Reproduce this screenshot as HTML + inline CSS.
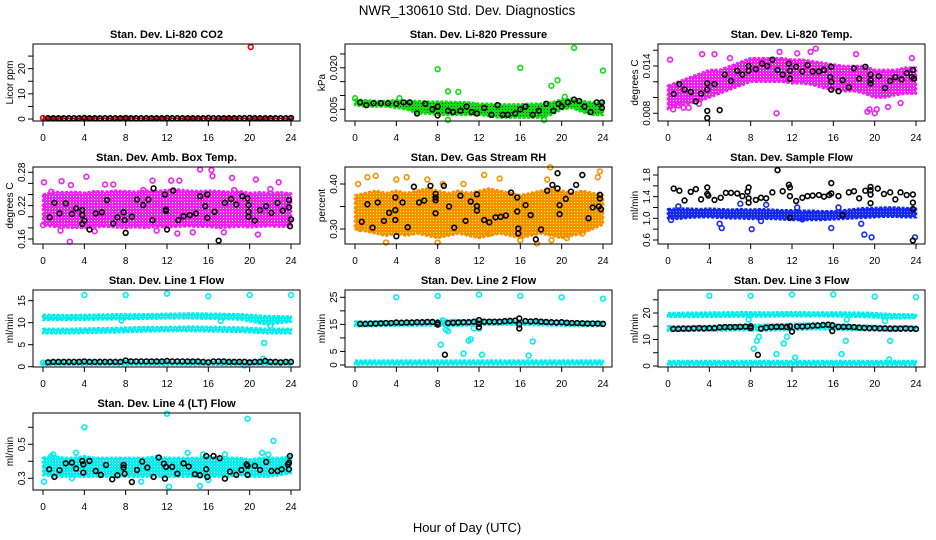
<!DOCTYPE html>
<html><head><meta charset="utf-8"><style>
html,body{margin:0;padding:0;background:#fff;}
svg{display:block;font-family:"Liberation Sans",Arial,sans-serif;}
</style></head><body>
<svg id="chart" width="936" height="540" viewBox="0 0 936 540" xmlns="http://www.w3.org/2000/svg">
<defs id="defs"></defs>
<rect width="936" height="540" fill="#fff"/>
<text x="467" y="15" font-size="13.5" text-anchor="middle">NWR_130610  Std. Dev. Diagnostics</text>
<text x="467" y="532" font-size="13" text-anchor="middle">Hour of Day (UTC)</text>
</svg>
<script>
var xTicks = [0,4,8,12,16,20,24];

// Panel 1 CO2
var co2BandLo = [0,0]; var co2BandHi = [0.6,0.6];
var co2Out = [[20.1,28.6],[0,0.4]];
var co2BlackX = [0.5,1,1.5,2,2.5,3,3.5,4,4.5,5,5.5,6,6.5,7,7.5,8,8.5,9,9.5,10,10.5,11,11.5,12,12.5,13,13.5,14,14.5,15,15.5,16,16.5,17,17.5,18,18.5,19,19.5,20,20.5,21,21.5,22,22.5,23,23.5,24];
var co2BlackY = [0.3,0.3,0.3,0.3,0.3,0.3,0.3,0.4,0.3,0.3,0.3,0.3,0.3,0.3,0.3,0.4,0.3,0.3,0.3,0.3,0.3,0.3,0.3,0.4,0.3,0.3,0.3,0.3,0.3,0.3,0.3,0.4,0.3,0.3,0.3,0.3,0.3,0.3,0.3,0.4,0.3,0.3,0.3,0.3,0.3,0.3,0.3,0.4];

// Panel 2 Pressure
var prBandHi = [0.0085,0.0083,0.008,0.008,0.0083,0.008,0.008,0.0078,0.0078,0.0077,0.0076,0.0075,0.007,0.007,0.0068,0.0068,0.0068,0.007,0.007,0.0075,0.0085,0.0088,0.008,0.0075,0.0075];
var prBandLo = [0.0065,0.006,0.006,0.006,0.0055,0.005,0.0035,0.0035,0.003,0.003,0.003,0.003,0.003,0.0025,0.002,0.002,0.002,0.002,0.002,0.003,0.005,0.0055,0.004,0.003,0.003];
var prOut = [[8,0.0195],[9,0.0115],[10,0.0113],[16,0.0200],[19,0.0135],[19.6,0.0155],[20.3,0.0095],[21.2,0.0272],[24,0.0190],[0,0.009],[4.3,0.009],[9,0.0012],[18.3,0.0012]];
var prBlack = [[0.5,0.0075],[1.1,0.0065],[1.8,0.0072],[2.5,0.0072],[3.2,0.0072],[4,0.007],[4.7,0.0075],[5.3,0.0075],[6,0.0035],[6.8,0.007],[7.5,0.005],[8,0.006],[8,0.0028],[9,0.0045],[9.5,0.004],[10.2,0.0045],[10.8,0.006],[11.3,0.004],[11.8,0.0035],[12.5,0.0055],[13.2,0.003],[13.8,0.0065],[14.3,0.003],[14.8,0.003],[15.5,0.0035],[16,0.005],[16.5,0.006],[17.2,0.003],[17.8,0.0045],[18.5,0.007],[19.2,0.0045],[19.7,0.007],[20,0.006],[20.6,0.0075],[21.2,0.0085],[21.7,0.008],[22.2,0.006],[22.8,0.004],[23.4,0.0075],[23.9,0.0075],[23.9,0.0055]];

// Panel 3 Li-820 Temp
var ltBandHi = [0.0115,0.0120,0.0125,0.0130,0.0135,0.0135,0.0140,0.0145,0.0150,0.0150,0.0150,0.0150,0.0148,0.0148,0.0146,0.0144,0.0142,0.0140,0.0140,0.0140,0.0135,0.0135,0.0135,0.0138,0.0138];
var ltBandLo = [0.0085,0.0090,0.0092,0.0095,0.0100,0.0105,0.0110,0.0115,0.0120,0.0120,0.0120,0.0120,0.0118,0.0118,0.0116,0.0112,0.0110,0.0108,0.0108,0.0105,0.0100,0.0100,0.0103,0.0105,0.0105];
var ltOut = [[0.2,0.0148],[0.5,0.0085],[1,0.0090],[3.3,0.0155],[4.5,0.0155],[10.5,0.0080],[10.8,0.0158],[13.8,0.0158],[14.3,0.0162],[18.2,0.0155],[19.3,0.0082],[19.5,0.0085],[20,0.0080],[20.2,0.0085],[21.3,0.0088],[22.5,0.0093],[23.6,0.0150],[1.5,0.0087],[2,0.0087],[3,0.0092],[6,0.0150],[12.5,0.0156]];
var ltBlack = [[0.55,0.01045],[1.1,0.0117],[1.6,0.011],[2.2,0.0107],[2.7,0.0095],[3.2,0.0105],[3.8,0.0118],[3.8,0.011],[3.8,0.0083],[3.8,0.0074],[4.5,0.0117],[5,0.0084],[5.5,0.0129],[6.1,0.0121],[6.7,0.0134],[7.2,0.0129],[7.8,0.014],[7.8,0.0134],[8.5,0.0136],[9.1,0.0143],[9.6,0.014],[10.1,0.0148],[10.6,0.0135],[11.1,0.0129],[11.7,0.0143],[11.8,0.0134],[11.8,0.0124],[12.4,0.0139],[13,0.0133],[13.5,0.0141],[14,0.0133],[14.6,0.0133],[15.1,0.0135],[15.8,0.0139],[15.7,0.0126],[15.8,0.012],[15.8,0.011],[16.5,0.0108],[16.9,0.0122],[17.5,0.0113],[18,0.0137],[18.5,0.0124],[19.1,0.0139],[19.6,0.0129],[19.6,0.0122],[19.6,0.0118],[20.4,0.0127],[21,0.0112],[21.5,0.0121],[22,0.0126],[22.6,0.0123],[23.1,0.0131],[23.6,0.0126],[23.7,0.0135],[23.8,0.0124]];

// Panel 4 Amb Box Temp
var abBandHi = [0.240,0.245,0.244,0.245,0.243,0.246,0.245,0.247,0.246,0.245,0.247,0.246,0.248,0.249,0.247,0.246,0.247,0.246,0.245,0.246,0.243,0.244,0.243,0.244,0.242];
var abBandLo = [0.185,0.182,0.181,0.180,0.180,0.181,0.182,0.181,0.180,0.181,0.180,0.182,0.181,0.182,0.183,0.182,0.182,0.180,0.181,0.182,0.181,0.182,0.183,0.182,0.183];
var abOut = [[0.1,0.262],[0.8,0.245],[1.7,0.175],[1.8,0.264],[2.6,0.155],[2.7,0.257],[4.2,0.272],[6,0.258],[6.8,0.258],[9.7,0.248],[10.6,0.265],[12.4,0.265],[13.2,0.265],[15.2,0.285],[16.3,0.284],[16.4,0.273],[18.3,0.27],[18.5,0.248],[20.6,0.267],[20.8,0.168],[22.8,0.262],[13,0.17],[14.5,0.172],[5,0.174],[22,0.25],[0,0.185],[11,0.175],[17.5,0.172]];
var abBlack = [[0.65,0.199],[1.1,0.225],[1.6,0.206],[2.2,0.224],[2.8,0.205],[3.2,0.215],[3.8,0.212],[3.8,0.203],[3.8,0.187],[4,0.193],[4.5,0.177],[5.1,0.206],[5.7,0.208],[6.2,0.230],[6.8,0.188],[7.2,0.199],[7.8,0.208],[7.9,0.194],[8,0.171],[8.6,0.200],[9.1,0.231],[9.7,0.221],[10.2,0.231],[10.6,0.194],[10.7,0.251],[11.8,0.240],[11.9,0.213],[11.9,0.210],[12,0.177],[12.6,0.247],[13.1,0.194],[13.6,0.201],[14.2,0.203],[14.8,0.206],[15.2,0.237],[15.7,0.219],[15.9,0.240],[15.9,0.198],[16.6,0.209],[17,0.157],[17.6,0.225],[18.2,0.232],[18.7,0.222],[19.3,0.237],[19.8,0.233],[19.9,0.221],[19.9,0.209],[19.9,0.200],[20.5,0.193],[21,0.212],[21.6,0.219],[22.1,0.207],[22.7,0.225],[23.2,0.211],[23.8,0.230],[23.8,0.217],[24,0.195],[23.9,0.183]];

// Panel 5 Gas Stream RH
var rhBandHi = [0.375,0.38,0.385,0.38,0.385,0.38,0.385,0.39,0.385,0.38,0.385,0.38,0.385,0.39,0.385,0.38,0.375,0.38,0.385,0.39,0.385,0.38,0.385,0.38,0.375];
var rhBandLo = [0.30,0.295,0.29,0.285,0.29,0.285,0.29,0.285,0.28,0.285,0.29,0.285,0.28,0.285,0.29,0.285,0.28,0.285,0.29,0.285,0.28,0.285,0.29,0.30,0.31];
var rhOut = [[0.3,0.40],[1.2,0.415],[2,0.418],[7,0.41],[8.5,0.40],[12.5,0.42],[14,0.412],[17.6,0.268],[18.6,0.41],[23.7,0.428],[23.5,0.415],[4,0.41],[0.5,0.3],[3,0.27],[8,0.27],[19,0.275],[22,0.29],[13,0.29],[16,0.275],[18.9,0.437],[5,0.415],[10.5,0.40],[20.5,0.28]];
var rhBlack = [[0.65,0.316],[1.2,0.355],[1.7,0.303],[2.2,0.359],[2.8,0.318],[3.3,0.336],[3.9,0.370],[3.9,0.342],[3.9,0.320],[4,0.284],[4.6,0.359],[5.1,0.304],[5.7,0.394],[6.2,0.359],[6.7,0.363],[7.3,0.396],[7.8,0.378],[7.8,0.370],[7.8,0.364],[7.8,0.335],[8.6,0.396],[9.1,0.350],[9.6,0.303],[10.2,0.374],[10.7,0.318],[11.2,0.361],[11.8,0.377],[11.8,0.351],[11.8,0.341],[12.5,0.320],[13,0.315],[13.6,0.326],[14.1,0.327],[14.6,0.330],[15.1,0.381],[15.7,0.370],[15.7,0.339],[15.8,0.301],[15.8,0.290],[16.5,0.353],[17,0.331],[17.5,0.277],[18,0.299],[18.6,0.385],[19.1,0.398],[19.6,0.390],[19.6,0.424],[19.8,0.353],[19.8,0.333],[20.4,0.367],[20.9,0.383],[21.4,0.398],[22,0.420],[22.6,0.324],[23,0.348],[23.6,0.350],[23.7,0.376],[23.7,0.368],[23.8,0.344]];

// Panel 6 Sample Flow
var sfBandHi = [1.17,1.18,1.18,1.17,1.18,1.17,1.16,1.17,1.16,1.17,1.16,1.15,1.15,1.14,1.14,1.13,1.13,1.15,1.17,1.19,1.19,1.2,1.2,1.19,1.18];
var sfBandLo = [1.0,0.99,1.01,1.02,1.02,1.01,1.0,1.0,0.99,0.99,0.99,0.98,0.97,0.97,0.97,0.97,0.98,0.99,1.0,1.01,1.02,1.03,1.03,1.02,1.02];
var sfOut = [[5,0.9],[5.2,0.82],[7,1.27],[8.1,0.8],[9,0.95],[9.5,1.25],[15.8,0.82],[18.7,0.9],[19,0.7],[19.7,0.65],[23.9,0.65],[1,1.22],[13,0.98],[0.3,0.97],[16.5,1.2],[12.5,1.2]];
var sfBlack = [[0.55,1.55],[1.1,1.51],[1.6,1.33],[2.2,1.49],[2.7,1.54],[3.2,1.35],[3.8,1.57],[3.8,1.45],[3.9,1.42],[4.5,1.34],[5.1,1.38],[5.6,1.47],[6.1,1.47],[6.7,1.46],[7.2,1.41],[7.7,1.49],[7.8,1.57],[7.8,1.37],[7.8,1.29],[8.5,1.34],[9,1.38],[9.5,1.37],[10.1,1.48],[10.6,1.89],[11.1,1.50],[11.7,1.62],[11.8,1.57],[11.8,1.41],[11.8,1.01],[12.4,1.32],[13,1.38],[13.5,1.41],[14,1.42],[14.6,1.43],[15.1,1.40],[15.6,1.43],[15.8,1.65],[15.8,1.46],[16.5,1.41],[16.9,1.06],[17.5,1.48],[18,1.50],[18.5,1.37],[19.1,1.51],[19.6,1.58],[19.6,1.52],[19.6,1.44],[19.6,1.28],[20.3,1.55],[20.9,1.45],[21.5,1.48],[22,1.35],[22.5,1.48],[23.1,1.43],[23.7,1.44],[23.7,1.29],[23.7,1.17],[23.7,0.59]];

// Panel 7 Line 1 Flow (three bands)
var l1UpperHi = [11.8,11.7,11.8,11.9,11.9,12.0,12.1,12.0,11.9,11.5,11.4];
var l1UpperLo = [10.6,10.6,10.7,10.8,10.9,11.0,11.0,10.9,10.7,9.6,10.2];
var l1MidHi = [8.6,8.6,8.7,8.8,9.0,9.0,9.1,9.0,8.9,8.6,8.6];
var l1MidLo = [7.6,7.6,7.7,7.8,8.0,8.1,8.1,8.0,7.9,7.6,7.6];
var l1LowHi = [1.3,1.3,1.3,1.3,1.3];
var l1LowLo = [0.4,0.4,0.4,0.4,0.4];
var l1Out = [[4,16.3],[8,16.3],[12,16.6],[16,16],[20,16.3],[24,16.3],[21.4,5.4],[21.3,1.8],[19.5,0.3],[17.2,10.4],[7.6,10.5],[22,9.3],[0,0.9]];
var l1BlackX = [0.5,1,1.5,2,2.5,3,3.5,4,4.5,5,5.5,6,6.5,7,7.5,8,8.5,9,9.5,10,10.5,11,11.5,12,12.5,13,13.5,14,14.5,15,15.5,16,16.5,17,17.5,18,18.5,19,19.5,20,20.5,21,21.5,22,22.5,23,23.5,24];
var l1BlackY = [1.0,1.1,1.1,1.1,1.1,1.1,1.1,1.2,1.1,1.1,1.1,1.1,1.1,1.1,1.1,1.4,1.2,1.2,1.2,1.2,1.2,1.2,1.2,1.3,1.2,1.2,1.2,1.2,1.2,1.2,1.1,1.0,1.2,1.2,1.2,1.1,1.1,1.1,1.1,1.0,1.1,1.1,1.3,1.1,1.1,1.0,1.1,1.1];

// Panel 8 Line 2 Flow
var l2UpperHi = [16.0,16.0,16.1,16.3,16.6,16.5,16.5,16.3,16.2,16.0,15.9];
var l2UpperLo = [14.3,14.4,14.5,14.6,14.4,14.8,14.9,14.8,14.6,14.4,14.4];
var l2LowHi = [1.6,1.6,1.6,1.6,1.6];
var l2LowLo = [0.2,0.2,0.2,0.2,0.2];
var l2Out = [[4,25],[8,25.5],[12,26],[16,25.5],[20,25],[24,24.5],[8.3,7.5],[8.5,16.5],[8.8,13],[9,12.5],[10.5,4.2],[11,9],[11.2,9.5],[11.5,13.5],[12.3,3.8],[16.8,3.5],[17.2,8.7],[12,13.5]];
var l2BlackX = [0.5,1,1.5,2,2.5,3,3.5,4,4.5,5,5.5,6,6.5,7,7.5,8,8,9,9.5,10,10.5,11,11.5,12,12,12,12.5,13,13.5,14,14.5,15,15.5,15.9,15.9,15.9,16.5,17,17.5,18,18.5,19,19.5,20,20.5,21,21.5,22,22.5,23,23.5,24,8.7];
var l2BlackY = [15.2,15.2,15.3,15.3,15.4,15.5,15.5,15.7,15.6,15.7,15.7,15.8,15.8,15.9,15.9,15.6,14.9,15.5,15.6,15.7,15.8,15.8,16.0,16.6,15.2,14.0,16.0,16.0,16.0,16.0,16.2,16.3,16.4,17.2,15.0,13.5,16.2,16.1,16.2,16.0,15.9,15.8,15.7,15.8,15.6,15.5,15.5,15.4,15.3,15.3,15.3,15.2,3.8];

// Panel 9 Line 3 Flow
var l3UpperHi = [20.0,20.1,20.2,20.3,20.2,20.3,20.2,20.2,20.1,19.6,19.4];
var l3UpperLo = [18.6,18.5,18.6,18.7,18.7,18.8,18.8,18.7,18.5,18.0,18.1];
var l3MidHi = [15.0,15.0,15.2,15.4,15.6,15.9,16.1,15.5,15.2,15.0,14.9];
var l3MidLo = [13.3,13.3,13.4,13.5,13.4,13.7,13.9,13.6,13.5,13.3,13.3];
var l3LowHi = [1.9,1.9,1.9,1.9,1.9];
var l3LowLo = [0.4,0.4,0.4,0.4,0.4];
var l3Out = [[4,26.5],[8,26.5],[12,27],[16,27],[20,26.2],[24,26],[8.3,6.5],[8.6,9.5],[8.8,11],[10.5,4.5],[11.2,8.5],[11.5,11],[12.3,3.2],[16.8,4.5],[17.2,9.5],[21.5,9.5],[21.4,2.5],[7.8,17.5],[17.3,17.5],[21,17]];
var l3BlackX = [0.5,1,1.5,2,2.5,3,3.5,4,4.5,5,5.5,6,6.5,7,7.5,8,8,9,9.5,10,10.5,11,11.5,11.8,12,12.5,13,13.5,14,14.5,15,15.5,15.9,15.9,16.5,17,17.5,18,18.5,19,19.5,20,20.5,21,21.5,22,22.5,23,23.5,24,8.7];
var l3BlackY = [14.0,14.0,14.1,14.1,14.2,14.3,14.2,14.3,14.3,14.6,14.7,14.7,14.7,14.8,14.9,15.0,14.3,14.1,14.5,14.7,14.8,14.8,14.7,15.0,13.0,14.9,14.9,15.0,15.2,15.3,15.5,15.6,15.4,13.2,14.8,14.8,14.8,14.7,14.5,14.4,14.3,14.3,14.2,14.2,14.1,14.1,14.1,14.2,14.1,14.0,4.2];

// Panel 10 Line 4 Flow
var l4BandHi = [0.42,0.43,0.42,0.42,0.43,0.42,0.42,0.42,0.42,0.42,0.42,0.43,0.42,0.42,0.42,0.42,0.43,0.42,0.42,0.42,0.41,0.42,0.42,0.42,0.43];
var l4BandLo = [0.32,0.31,0.31,0.31,0.31,0.31,0.31,0.31,0.31,0.31,0.31,0.31,0.31,0.31,0.31,0.31,0.31,0.31,0.31,0.32,0.31,0.31,0.31,0.32,0.33];
var l4Out = [[0.1,0.28],[4,0.60],[12,0.68],[19.8,0.65],[22.3,0.52],[12.2,0.25],[15.2,0.255],[3.2,0.45],[14,0.45],[21.2,0.45],[9.5,0.28],[1,0.44],[2.8,0.3],[15.5,0.44],[17.6,0.44],[16,0.29],[0.8,0.43],[21.8,0.44]];
var l4Black = [[0.6,0.353],[1.1,0.308],[1.6,0.347],[2.2,0.388],[2.8,0.392],[3.2,0.357],[3.8,0.402],[3.9,0.382],[3.9,0.333],[4.5,0.402],[5.1,0.343],[5.6,0.320],[6.1,0.378],[6.7,0.294],[7.2,0.318],[7.8,0.378],[7.8,0.363],[7.9,0.327],[8.6,0.278],[9.1,0.349],[9.6,0.398],[10.1,0.363],[10.7,0.308],[11.2,0.422],[11.7,0.386],[11.9,0.367],[11.8,0.298],[12.5,0.367],[13,0.327],[13.6,0.388],[14.1,0.369],[14.7,0.324],[15.2,0.318],[15.8,0.431],[15.8,0.353],[15.9,0.308],[16.5,0.431],[17.1,0.418],[17.6,0.298],[18.1,0.339],[18.7,0.320],[19.2,0.349],[19.7,0.382],[19.8,0.373],[19.8,0.320],[20.5,0.373],[21,0.349],[21.6,0.396],[22.1,0.343],[22.7,0.343],[23.1,0.353],[23.7,0.382],[23.8,0.392],[23.9,0.431],[23.8,0.353]];

var SVGNS = "http://www.w3.org/2000/svg";
var svg = document.getElementById('chart');
var defs = document.getElementById('defs');
function mk(tag, attrs, parent) {
  var e = document.createElementNS(SVGNS, tag);
  for (var k in attrs) e.setAttribute(k, attrs[k]);
  (parent || svg).appendChild(e);
  return e;
}
function zip(xs, ys) { var r = []; for (var i = 0; i < xs.length; i++) r.push([xs[i], ys[i]]); return r; }

var colLeft = [33, 345, 658];
var rowTop = [44, 167, 290, 413];
var W = 267, H = 77;

var panels = [
  {name:'co2', title:'Stan. Dev. Li-820 CO2', ylab:'Licor ppm', col:0,row:0, dom:[-0.8,29.8], ticks:[0,5,10,15,20,25], labels:['0','','10','','20',''], color:'#e00000', dot:'#000', bands:[[co2BandLo,co2BandHi]], out:co2Out, black:zip(co2BlackX,co2BlackY)},
  {name:'pressure', title:'Stan. Dev. Li-820 Pressure', ylab:'kPa', col:1,row:0, dom:[0.00078,0.0286], ticks:[0.005,0.010,0.015,0.020,0.025], labels:['0.005','','','0.020',''], color:'#10dd10', dot:'#064006', bands:[[prBandLo,prBandHi]], out:prOut, black:prBlack},
  {name:'li820-temp', title:'Stan. Dev. Li-820 Temp.', ylab:'degrees C', col:2,row:0, dom:[0.00702,0.01679], ticks:[0.008,0.010,0.012,0.014,0.016], labels:['0.008','','','0.014',''], color:'#f020f0', dot:'#ffffff', bands:[[ltBandLo,ltBandHi]], out:ltOut, black:ltBlack},
  {name:'amb-box-temp', title:'Stan. Dev. Amb. Box Temp.', ylab:'degrees C', col:0,row:1, dom:[0.151,0.2895], ticks:[0.16,0.18,0.20,0.22,0.24,0.26,0.28], labels:['0.16','','','0.22','','','0.28'], color:'#f020f0', dot:'#ffffff', bands:[[abBandLo,abBandHi]], out:abOut, black:abBlack},
  {name:'gas-stream-rh', title:'Stan. Dev. Gas Stream RH', ylab:'percent', col:1,row:1, dom:[0.2667,0.4378], ticks:[0.30,0.35,0.40], labels:['0.30','','0.40'], color:'#f59000', dot:'#ffff00', bands:[[rhBandLo,rhBandHi]], out:rhOut, black:rhBlack},
  {name:'sample-flow', title:'Stan. Dev. Sample Flow', ylab:'ml/min', col:2,row:1, dom:[0.526,1.948], ticks:[0.6,0.8,1.0,1.2,1.4,1.6,1.8], labels:['0.6','','1.0','','1.4','','1.8'], color:'#1428f0', dot:'#8090ff', bands:[[sfBandLo,sfBandHi]], out:sfOut, black:sfBlack},
  {name:'line1-flow', title:'Stan. Dev. Line 1 Flow', ylab:'ml/min', col:0,row:2, dom:[-0.07,17.43], ticks:[0,5,10,15], labels:['0','5','10','15'], color:'#00eeee', dot:'#c0ffff', bands:[[l1UpperLo,l1UpperHi],[l1MidLo,l1MidHi],[l1LowLo,l1LowHi]], out:l1Out, black:zip(l1BlackX,l1BlackY)},
  {name:'line2-flow', title:'Stan. Dev. Line 2 Flow', ylab:'ml/min', col:1,row:2, dom:[-0.74,27.7], ticks:[0,5,10,15,20,25], labels:['0','5','','15','','25'], color:'#00eeee', dot:'#c0ffff', bands:[[l2UpperLo,l2UpperHi],[l2LowLo,l2LowHi]], out:l2Out, black:zip(l2BlackX,l2BlackY)},
  {name:'line3-flow', title:'Stan. Dev. Line 3 Flow', ylab:'ml/min', col:2,row:2, dom:[-0.38,28.7], ticks:[0,5,10,15,20,25], labels:['0','','10','','20',''], color:'#00eeee', dot:'#c0ffff', bands:[[l3UpperLo,l3UpperHi],[l3MidLo,l3MidHi],[l3LowLo,l3LowHi]], out:l3Out, black:zip(l3BlackX,l3BlackY)},
  {name:'line4-flow', title:'Stan. Dev. Line 4 (LT) Flow', ylab:'ml/min', col:0,row:3, dom:[0.231,0.684], ticks:[0.3,0.4,0.5,0.6], labels:['0.3','','0.5',''], color:'#00eeee', dot:'#c0ffff', bands:[[l4BandLo,l4BandHi]], out:l4Out, black:l4Black}
];

panels.forEach(function(p, pi){
  var L = colLeft[p.col], T = rowTop[p.row], B = T + H, R = L + W;
  var xs = function(v){ return L + 10 + v * 248 / 24; };
  var ys = function(v){ return B - (v - p.dom[0]) / (p.dom[1] - p.dom[0]) * H; };

  var pat = mk('pattern', {id: 'pat' + pi, width: 3, height: 3, patternUnits: 'userSpaceOnUse'}, defs);
  mk('rect', {width: 3, height: 3, fill: p.color}, pat);
  mk('rect', {x: 1, y: 1, width: 1, height: 1, fill: p.dot}, pat);

  var g = mk('g', {});
  
  

  var t = mk('text', {x: L + W/2, y: T - 6, 'font-size': 11, 'font-weight': 'bold', 'text-anchor': 'middle'}, g);
  
  
  t.textContent = p.title;

  var yl = mk('text', {x: 0, y: 0, 'font-size': 10, 'text-anchor': 'middle', transform: 'translate(' + (L - 20) + ',' + (T + H/2) + ') rotate(-90)'}, g);
  
  
  yl.textContent = p.ylab;

  p.bands.forEach(function(b){
    var lo = b[0], hi = b[1], n = hi.length, pts = [];
    for (var i = 0; i < n; i++) pts.push(xs(i * 24 / (n - 1)) + ',' + ys(hi[i]));
    for (var j = n - 1; j >= 0; j--) pts.push(xs(j * 24 / (n - 1)) + ',' + ys(lo[j]));
    var poly = mk('polygon', {points: pts.join(' '), fill: 'url(#pat' + pi + ')', stroke: p.color, 'stroke-width': 2.5, 'stroke-linejoin': 'round', 'stroke-dasharray': '3 1.5'}, g);
    
    
  });
  p.out.forEach(function(d){
    var c = mk('circle', {cx: xs(d[0]), cy: ys(d[1]), r: 2.4, fill: 'none', stroke: p.color, 'stroke-width': 1.6}, g);
    
    
  });
  p.black.forEach(function(d){
    var c = mk('circle', {cx: xs(d[0]), cy: ys(d[1]), r: 2.4, fill: 'none', stroke: '#000', 'stroke-width': 1.6}, g);
    
    
  });

  var box = mk('rect', {x: L, y: T, width: W, height: H, fill: 'none', stroke: '#000', 'stroke-width': 1}, g);
  
  

  var xa = mk('line', {x1: xs(0), x2: xs(24), y1: B, y2: B, stroke: '#000'}, g);
  
  
  xTicks.forEach(function(v){
    mk('line', {x1: xs(v), x2: xs(v), y1: B, y2: B + 5, stroke: '#000'}, g);
    var tl = mk('text', {x: xs(v), y: B + 20, 'font-size': 10, 'text-anchor': 'middle'}, g);
    
    
    tl.textContent = v;
  });
  var ya = mk('line', {x1: L, x2: L, y1: ys(p.ticks[0]), y2: ys(p.ticks[p.ticks.length - 1]), stroke: '#000'}, g);
  
  
  p.ticks.forEach(function(v, i){
    mk('line', {x1: L - 5, x2: L, y1: ys(v), y2: ys(v), stroke: '#000'}, g);
    if (p.labels[i]) {
      var tl = mk('text', {x: 0, y: 0, 'font-size': 10, 'text-anchor': 'middle', transform: 'translate(' + (L - 8) + ',' + ys(v) + ') rotate(-90)'}, g);
      
      
      tl.textContent = p.labels[i];
    }
  });
});
</script>
</body></html>
